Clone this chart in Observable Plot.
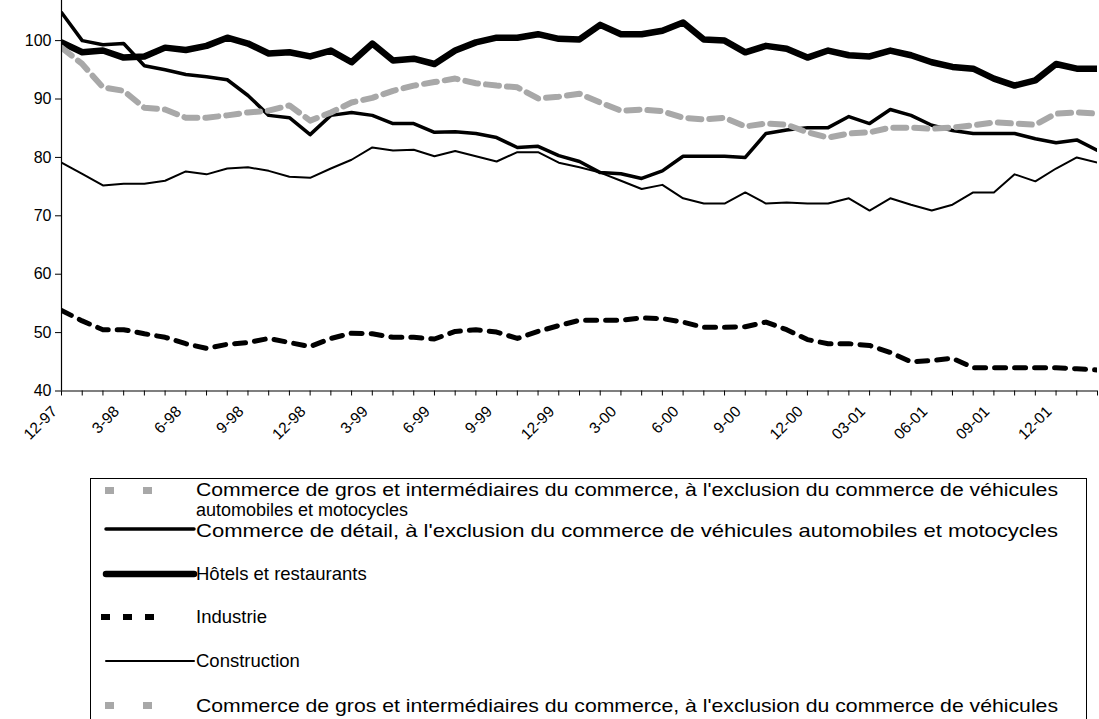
<!DOCTYPE html>
<html>
<head>
<meta charset="utf-8">
<script src="https://cdn.jsdelivr.net/npm/d3@7"></script>
<script src="https://cdn.jsdelivr.net/npm/@observablehq/plot@0.6"></script>
<style>
  html, body { margin: 0; padding: 0; background: #fff; }
  #wrap { position: relative; width: 1099px; height: 719px; overflow: hidden; font-family: "Liberation Sans", Arial, sans-serif; }
  #chart { position: absolute; left: 0; top: 0; }
  #legend { position: absolute; left: 90px; top: 478px; width: 997px; height: 300px; border: 1px solid #000; box-sizing: border-box; background: #fff; }
</style>
</head>
<body>
<div id="wrap">
  <div id="chart"></div>
  <div id="legend"></div>
</div>
<script>
// Month index 0 = 12-97 ... 50 = 2-02
const monthIndex = d3.range(51);
const tickLabels = ["12-97","3-98","6-98","9-98","12-98","3-99","6-99","9-99","12-99","3-00","6-00","9-00","12-00","03-01","06-01","09-01","12-01"];
const yTicks = [40, 50, 60, 70, 80, 90, 100];

const seriesNames = [
  "Commerce de gros et intermédiaires du commerce, à l'exclusion du commerce de véhicules automobiles et motocycles",
  "Commerce de détail, à l'exclusion du commerce de véhicules automobiles et motocycles",
  "Hôtels et restaurants",
  "Industrie",
  "Construction"
];

const gros = [98.8, 96, 92, 91.4, 88.5, 88.2, 86.8, 86.8, 87.2, 87.7,
  88, 88.9, 86.3, 87.7, 89.4, 90.2, 91.4, 92.3, 92.9, 93.5,
  92.7, 92.3, 92, 90.1, 90.4, 90.9, 89.4, 88, 88.2, 87.9,
  86.8, 86.5, 86.8, 85.3, 85.8, 85.6, 84.3, 83.4, 84.1, 84.3,
  85.1, 85.1, 84.9, 85.1, 85.5, 86, 85.8, 85.6, 87.5, 87.7,
  87.5];
const detail = [104.8, 100, 99.3, 99.5, 95.7, 95, 94.2, 93.8, 93.3, 90.6,
  87.2, 86.8, 83.9, 87.2, 87.7, 87.2, 85.8, 85.8, 84.3, 84.4,
  84.1, 83.4, 81.7, 81.9, 80.3, 79.3, 77.4, 77.2, 76.4, 77.7,
  80.2, 80.2, 80.2, 80, 84.1, 84.7, 85.1, 85.1, 87, 85.8,
  88.2, 87.2, 85.5, 84.6, 84.1, 84.1, 84.1, 83.2, 82.5, 83,
  81.2];
const hotels = [99.7, 98, 98.3, 97.1, 97.3, 98.8, 98.4, 99.1, 100.5, 99.5,
  97.8, 98, 97.3, 98.3, 96.3, 99.5, 96.6, 96.9, 96, 98.3,
  99.7, 100.5, 100.5, 101.1, 100.3, 100.2, 102.7, 101.1, 101.1, 101.7,
  103.1, 100.2, 100, 98, 99.1, 98.6, 97.1, 98.3, 97.5, 97.3,
  98.3, 97.5, 96.3, 95.5, 95.2, 93.5, 92.3, 93.2, 96, 95.2,
  95.2];
const industrie = [53.8, 52, 50.5, 50.5, 49.8, 49.2, 48.1, 47.3, 48, 48.3,
  49, 48.3, 47.6, 49, 49.9, 49.8, 49.2, 49.2, 48.9, 50.2,
  50.5, 50.1, 49, 50.2, 51.2, 52.1, 52.1, 52.1, 52.5, 52.4,
  51.8, 50.9, 50.9, 51, 51.8, 50.5, 48.8, 48.1, 48.1, 47.8,
  46.6, 45, 45.2, 45.6, 44, 44, 44, 44, 44, 43.8,
  43.6];
const construction = [79.1, 77.2, 75.2, 75.5, 75.5, 76, 77.6, 77.1, 78.1, 78.3,
  77.7, 76.7, 76.5, 78.1, 79.6, 81.7, 81.2, 81.3, 80.2, 81.1,
  80.2, 79.3, 80.9, 80.9, 79.1, 78.3, 77.4, 76, 74.6, 75.3,
  73, 72.1, 72.1, 74, 72.1, 72.3, 72.1, 72.1, 73, 70.9,
  73, 71.9, 70.9, 71.9, 74, 74, 77.1, 75.9, 78.1, 80,
  79.1];

const styles = [
  {stroke: "#a8a8a8", strokeWidth: 6, strokeDasharray: "13,8"},
  {stroke: "#000", strokeWidth: 3.5},
  {stroke: "#000", strokeWidth: 6.5},
  {stroke: "#000", strokeWidth: 5, strokeDasharray: "11,9"},
  {stroke: "#000", strokeWidth: 2}
];

const toRows = (arr) => arr.map((v, i) => ({i: monthIndex[i], v}));
const labelRows = tickLabels.map((t, k) => ({i: k * 3, t}));

const chart = Plot.plot({
  width: 1099,
  height: 440,
  marginLeft: 61,
  marginRight: 2,
  marginTop: 0,
  marginBottom: 49.5,
  x: {domain: [0, 50], axis: null},
  y: {domain: [40, 106.87], axis: null},
  style: {fontFamily: "'Liberation Sans', Arial, sans-serif", background: "#fff", overflow: "visible"},
  marks: [
    Plot.lineY(toRows(detail), {x: "i", y: "v", ...styles[1], clip: true}),
    Plot.lineY(toRows(hotels), {x: "i", y: "v", ...styles[2], clip: true}),
    Plot.lineY(toRows(industrie), {x: "i", y: "v", ...styles[3], clip: true}),
    Plot.lineY(toRows(construction), {x: "i", y: "v", ...styles[4], clip: true}),
    Plot.lineY(toRows(gros), {x: "i", y: "v", ...styles[0], clip: true}),
    Plot.ruleX([0], {stroke: "#000", strokeWidth: 1.2}),
    Plot.ruleY([40], {stroke: "#000", strokeWidth: 1.2}),
    Plot.axisY(yTicks, {tickSize: 6, tickPadding: 4, fontSize: 16, stroke: "#000", fill: "#000", label: null, tickFormat: d => String(d)}),
    Plot.axisX(monthIndex, {tickSize: 5, tickFormat: () => "", stroke: "#000", label: null}),
    Plot.text(labelRows, {x: "i", y: () => 40, text: "t", rotate: -45, textAnchor: "end", fontSize: 15.5, fill: "#000", dx: -7, dy: 18})
  ]
});
document.getElementById("chart").appendChild(chart);

// Legend
const legendW = 997, legendH = 300;
const lg = d3.select("#legend").append("svg").attr("width", legendW - 2).attr("height", legendH).style("font-family", "'Liberation Sans', Arial, sans-serif");
const longLine = "Commerce de gros et intermédiaires du commerce, à l'exclusion du commerce de véhicules";
const entries = [
  {style: styles[0], lines: [longLine, "automobiles et motocycles"], y: 12, base: [17, 37], size: 18, sample: "gray", fit: [862, null]},
  {style: styles[1], lines: [seriesNames[1]], y: 50, base: [58], fit: [862]},
  {style: styles[2], lines: [seriesNames[2]], y: 95, base: [101]},
  {style: styles[3], lines: [seriesNames[3]], y: 138, base: [144], sample: "dash"},
  {style: styles[4], lines: [seriesNames[4]], y: 182, base: [188]},
  {style: styles[0], lines: [longLine], y: 227, base: [233], sample: "gray", fit: [862]}
];
entries.forEach(e => {
  if (e.sample === "gray") {
    [14, 52].forEach(x0 => lg.append("rect").attr("x", x0).attr("y", e.y - 4).attr("width", 9).attr("height", 7).attr("fill", "#a8a8a8"));
  } else if (e.sample === "dash") {
    [10, 32, 54].forEach(x0 => lg.append("rect").attr("x", x0).attr("y", e.y - 3).attr("width", 9).attr("height", 6).attr("fill", "#000"));
  } else {
    lg.append("line").attr("x1", 15).attr("x2", 103).attr("y1", e.y).attr("y2", e.y)
      .attr("stroke", e.style.stroke).attr("stroke-width", e.style.strokeWidth).attr("stroke-linecap", "round");
  }
  e.lines.forEach((t, k) => {
    const txt = lg.append("text").attr("x", 105).attr("y", e.base[k]).attr("font-size", e.size || 18.5).attr("fill", "#000").text(t);
    if (e.fit && e.fit[k]) txt.attr("textLength", e.fit[k]).attr("lengthAdjust", "spacingAndGlyphs");
  });
});
</script>
</body>
</html>
